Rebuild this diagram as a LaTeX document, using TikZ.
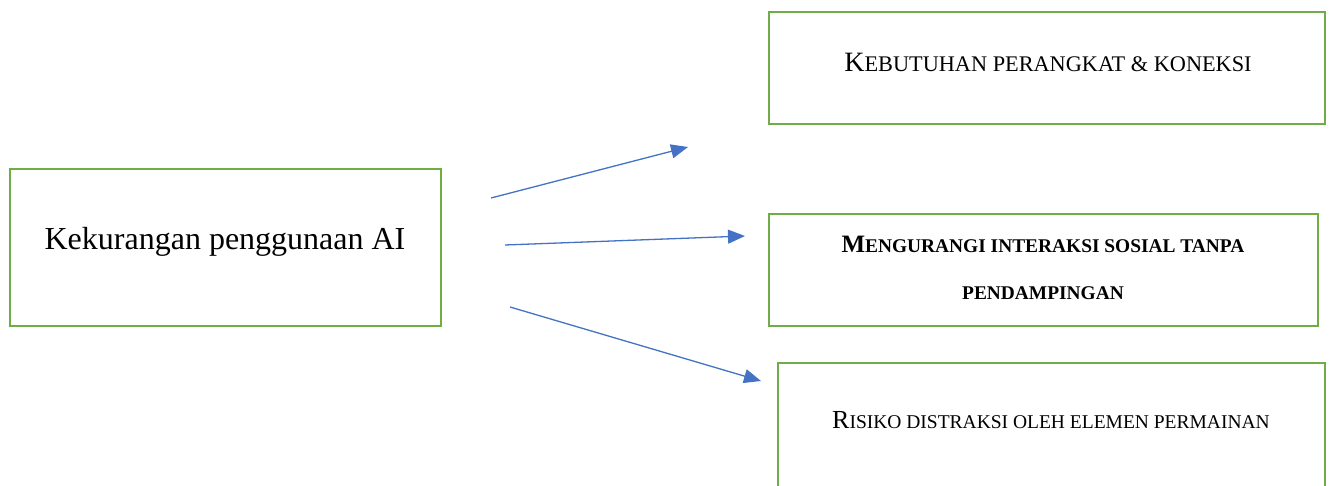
\documentclass[tikz,border=0pt]{standalone}
\usepackage{fontspec}
\setmainfont{Liberation Serif}
\usetikzlibrary{arrows.meta}
\definecolor{boxgreen}{HTML}{70AD47}
\definecolor{arrowblue}{HTML}{4472C4}
\newcommand{\mysc}[1]{{\fontsize{19.5}{24}\selectfont\MakeUppercase{#1}}}
\newcommand{\mysctop}[1]{{\fontsize{22.3}{26}\selectfont\MakeUppercase{#1}}}
\tikzset{
  greenbox/.style={draw=boxgreen, line width=2.8pt, rectangle, inner sep=0pt},
  bluearrow/.style={draw=arrowblue, line width=1.3pt, -{Triangle[length=17pt,width=14pt]}, arrowblue},
  sctext/.style={font=\fontsize{26}{30}\selectfont, inner sep=0pt, align=center}
}
\begin{document}
\begin{tikzpicture}[x=1pt,y=-1pt]
\useasboundingbox (0,0) rectangle (1333,486);
\clip (0,0) rectangle (1333,486);
\fill[white] (0,0) rectangle (1333,486);
% boxes
\node[greenbox, minimum width=431pt, minimum height=157pt] (src) at (225.5,247.5) {};
\node[greenbox, minimum width=556pt, minimum height=112pt] (b1) at (1047,68) {};
\node[greenbox, minimum width=549pt, minimum height=112pt] (b2) at (1043.5,270) {};
\node[greenbox, minimum width=547pt, minimum height=140pt] (b3) at (1051.5,433) {};
% texts
\node[font=\fontsize{32}{38}\selectfont, inner sep=0pt] (t0) at (225,242) {Kekurangan penggunaan AI};
\node[sctext, font=\fontsize{28}{32}\selectfont] (t1) at (1048,62) {K\mysctop{ebutuhan perangkat \& koneksi}};
\node[sctext, font=\fontsize{25}{47}\selectfont\bfseries] (t2) at (1043,268) {M{\fontsize{19.4}{47}\selectfont\MakeUppercase{engurangi interaksi sosial tanpa}}\\{\fontsize{19.4}{47}\selectfont\MakeUppercase{pendampingan}}};
\node[sctext] (t3) at (1051,420) {R\mysc{isiko distraksi oleh elemen permainan}};
% arrow end points
\coordinate (a1s) at (491,198);
\coordinate (a1e) at (688,147);
\coordinate (a2s) at (505,245);
\coordinate (a2e) at (745,236);
\coordinate (a3s) at (510,307);
\coordinate (a3e) at (761,381);
\draw[bluearrow] (a1s) -- (a1e);
\draw[bluearrow] (a2s) -- (a2e);
\draw[bluearrow] (a3s) -- (a3e);
\end{tikzpicture}
\end{document}
